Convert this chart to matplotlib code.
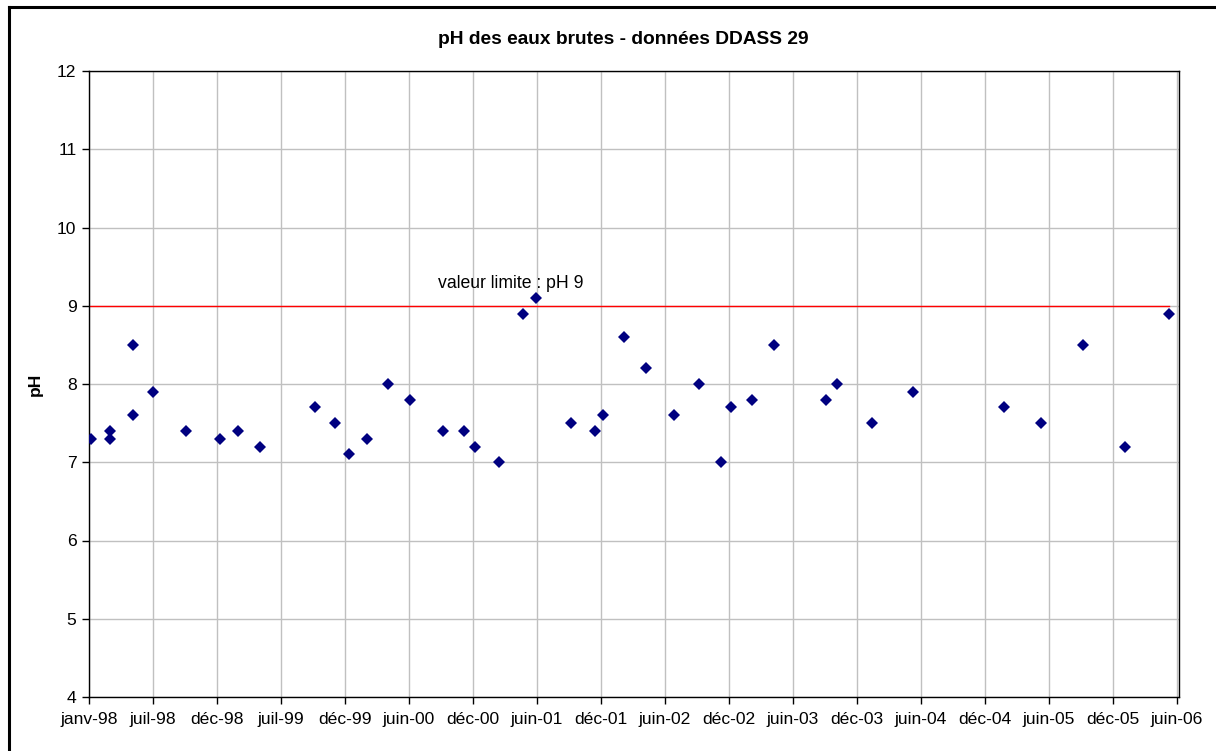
import matplotlib
matplotlib.use("Agg")
import matplotlib.pyplot as plt
import matplotlib.dates as mdates
import numpy as np
import datetime as dt

# ---- data ----
sample_dates = [
    "1998-01-07", "1998-03-02", "1998-03-02", "1998-05-05", "1998-05-05",
    "1998-07-02", "1998-10-04", "1999-01-10", "1999-03-01", "1999-05-03",
    "1999-10-06", "1999-12-02", "2000-01-10", "2000-03-02", "2000-05-02",
    "2000-07-02", "2000-10-03", "2000-12-03", "2001-01-04", "2001-03-12",
    "2001-05-20", "2001-06-27", "2001-10-02", "2001-12-10", "2002-01-03",
    "2002-03-03", "2002-05-06", "2002-07-23", "2002-10-03", "2002-12-04",
    "2003-01-02", "2003-03-02", "2003-05-04", "2003-09-30", "2003-10-31",
    "2004-02-08", "2004-06-01", "2005-02-15", "2005-06-01", "2005-09-28",
    "2006-01-26", "2006-05-31",
]
ph_values = [
    7.3, 7.4, 7.3, 8.5, 7.6,
    7.9, 7.4, 7.3, 7.4, 7.2,
    7.7, 7.5, 7.1, 7.3, 8.0,
    7.8, 7.4, 7.4, 7.2, 7.0,
    8.9, 9.1, 7.5, 7.4, 7.6,
    8.6, 8.2, 7.6, 8.0, 7.0,
    7.7, 7.8, 8.5, 7.8, 8.0,
    7.5, 7.9, 7.7, 7.5, 8.5,
    7.2, 8.9,
]
limit_value = 9.0
tick_labels = [
    "janv-98", "juil-98", "déc-98", "juil-99", "déc-99", "juin-00",
    "déc-00", "juin-01", "déc-01", "juin-02", "déc-02", "juin-03",
    "déc-03", "juin-04", "déc-04", "juin-05", "déc-05", "juin-06",
]
y_ticks = [4, 5, 6, 7, 8, 9, 10, 11, 12]
title = "pH des eaux brutes - données DDASS 29"
y_label = "pH"
limit_label = "valeur limite : pH 9"

# ---- figure ----
plt.rcParams['font.family'] = ['Liberation Sans', 'DejaVu Sans']
W, H = 1216, 751
fig = plt.figure(figsize=(W / 100, H / 100), dpi=100)

# outer chart frame (left/top visible, right/bottom cut off)
fig.add_artist(plt.Line2D([9 / W, 9 / W], [0, 1 - 6.5 / H], transform=fig.transFigure,
                          color='black', lw=2.2))
fig.add_artist(plt.Line2D([9 / W, 1], [1 - 6.5 / H, 1 - 6.5 / H], transform=fig.transFigure,
                          color='black', lw=2.2))

left, right, top, bottom = 89, 1179, 71, 697
ax = fig.add_axes([left / W, 1 - bottom / H, (right - left) / W, (bottom - top) / H])

base = mdates.date2num(dt.datetime(1998, 1, 1))
step = 182
span = 3101
tick_pos = [base + step * i for i in range(len(tick_labels))]
x = mdates.date2num([dt.datetime.strptime(d, "%Y-%m-%d") for d in sample_dates])

ax.set_xlim(base, base + span)
ax.set_ylim(4, 12)

ax.set_xticks(tick_pos)
ax.set_xticklabels(tick_labels)
ax.set_yticks(y_ticks)

ax.grid(True, color='#c0c0c0', lw=1.0)
ax.set_axisbelow(True)

# limit line
ax.plot([base, x.max()], [limit_value, limit_value], color='#ff0000', lw=1.0, zorder=2)
ax.plot(x, ph_values, linestyle='none', marker='D', color='#000080',
        markersize=6.5, markeredgewidth=0, zorder=3)

ax.text(base + (438 - left) / ((right - left) / span), limit_value + 0.18, limit_label,
        fontsize=12.7, ha='left', va='bottom')

for s in ax.spines.values():
    s.set_color('black')
    s.set_linewidth(1.0)

ax.tick_params(axis='both', direction='out', length=5, width=1, color='black',
               labelsize=12.6, pad=4)
ax.tick_params(axis='x', pad=6)

ax.set_ylabel(y_label, fontsize=12.6, fontweight='bold', labelpad=10)
fig.text(623 / W, 1 - 39 / H, title, fontsize=13.8, fontweight='bold',
         ha='center', va='center')

fig.savefig("out.png", dpi=100)
